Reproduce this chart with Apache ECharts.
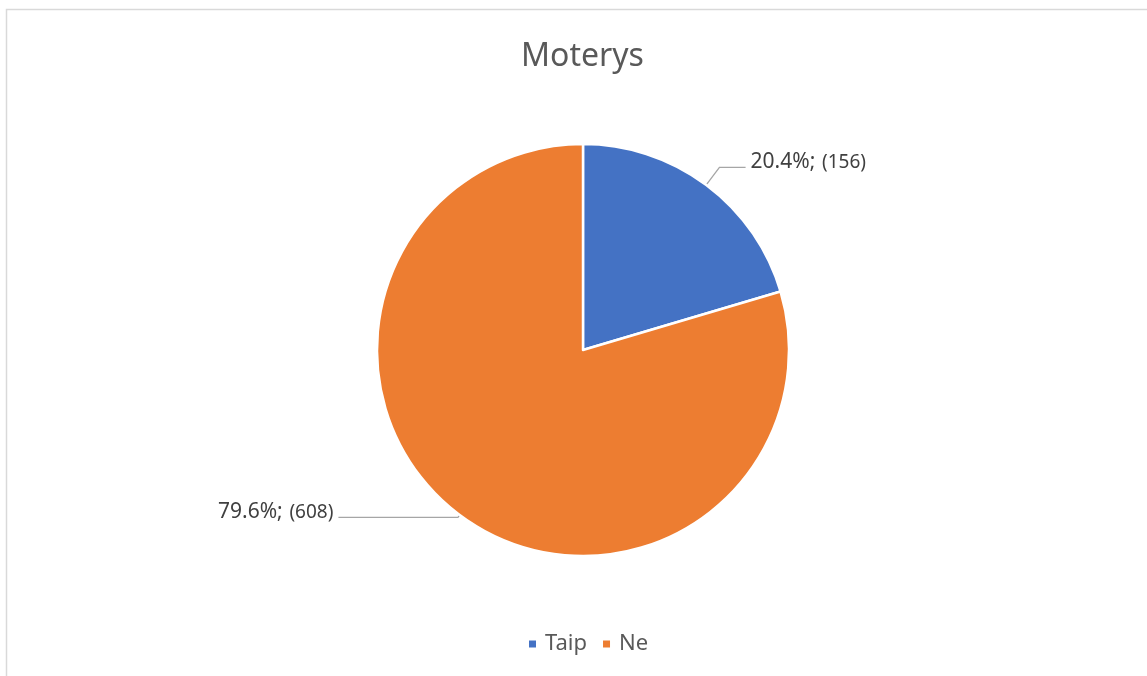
<!DOCTYPE html>
<html>
<head>
<meta charset="utf-8">
<script src="https://cdn.jsdelivr.net/npm/echarts@6/dist/echarts.min.js"></script>
<style>
  html, body { margin: 0; padding: 0; background: #fff; }
  #chart { width: 1147px; height: 676px; }
</style>
</head>
<body>
<div id="chart"></div>
<script>
// Survey answers for women
const titleText = 'Moterys';
const categories = ['Taip', 'Ne'];
const counts = [156, 608];
const colors = ['#4472C4', '#ED7D31'];

const FONT = '"Noto Sans", "Open Sans", sans-serif';

// per-slice label offsets from the chart edge
const labelEdges = [281, 218];
const labelLengths = [22, 3];

const chart = echarts.init(document.getElementById('chart'), null, { renderer: 'canvas' });

chart.setOption({
  animation: false,
  backgroundColor: '#ffffff',
  title: {
    text: titleText,
    left: 516,
    top: 36,
    textStyle: { fontFamily: FONT, fontSize: 32, fontWeight: 'normal', color: '#595959' }
  },
  legend: {
    data: categories,
    left: 522,
    top: 628,
    icon: 'rect',
    itemWidth: 9,
    itemHeight: 9,
    itemGap: 14,
    textStyle: { fontFamily: FONT, fontSize: 22, color: '#595959', padding: [0, 0, 0, 3] }
  },
  graphic: [{
    type: 'rect',
    silent: true,
    shape: { x: 6.5, y: 9.5, width: 1200, height: 700 },
    style: { fill: 'none', stroke: '#d9d9d9', lineWidth: 1.5 }
  }],
  series: [{
    type: 'pie',
    center: [583, 350],
    radius: 206,
    startAngle: 90,
    clockwise: true,
    percentPrecision: 1,
    itemStyle: { borderColor: '#ffffff', borderWidth: 2.5 },
    emphasis: { disabled: true },
    label: {
      show: true,
      position: 'outside',
      alignTo: 'edge',
      distanceToLabelLine: 5,
      padding: [0, 0, 10, 0],
      formatter: '{a|{d}%;}  {b|({c})}',
      color: '#404040',
      rich: {
        a: { fontFamily: FONT, fontSize: 21, color: '#404040' },
        b: { fontFamily: FONT, fontSize: 19, color: '#404040' }
      }
    },
    labelLine: {
      show: true,
      smooth: false,
      lineStyle: { color: '#A6A6A6', width: 1.3 }
    },
    data: categories.map((name, i) => ({
      name: name,
      value: counts[i],
      itemStyle: { color: colors[i] },
      label: { edgeDistance: labelEdges[i] },
      labelLine: { length: labelLengths[i], length2: 10 }
    }))
  }]
});
</script>
</body>
</html>
